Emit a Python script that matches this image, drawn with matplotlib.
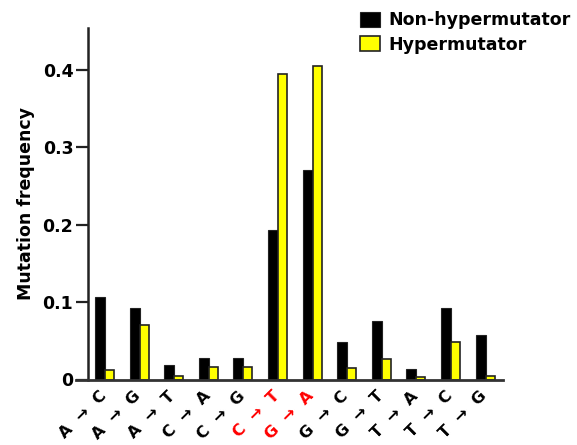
import numpy as np
import matplotlib
matplotlib.use('Agg')
import matplotlib.pyplot as plt
import matplotlib.transforms as mtransforms

plt.rcParams['font.family'] = ['DejaVu Sans']
plt.rcParams['font.weight'] = 'bold'

src = ['A', 'A', 'A', 'C', 'C', 'C', 'G', 'G', 'G', 'T', 'T', 'T']
dst = ['C', 'G', 'T', 'A', 'G', 'T', 'A', 'C', 'T', 'A', 'C', 'G']
non_hyper = [0.107, 0.093, 0.019, 0.028, 0.028, 0.193, 0.271, 0.049, 0.075, 0.014, 0.093, 0.057]
hyper = [0.012, 0.070, 0.004, 0.016, 0.016, 0.395, 0.406, 0.015, 0.027, 0.003, 0.049, 0.004]
red_idx = [5, 6]

fig = plt.figure(figsize=(5.77, 4.45), dpi=100)
ax = fig.add_axes([88/577, 1-379.5/445, 415/577, 351.5/445])

x = np.arange(len(src))
ax.bar(x-0.29, non_hyper, width=0.29, align='edge', color='black', edgecolor='#222222', linewidth=0.8, label='Non-hypermutator')
ax.bar(x, hyper, width=0.26, align='edge', color='#ffff00', edgecolor='#222222', linewidth=1.2, label='Hypermutator')

ax.set_xlim(-0.49, 11.5)
ax.set_ylim(0, 0.4545)
ax.set_yticks([0, 0.1, 0.2, 0.3, 0.4])
ax.set_yticklabels(['0', '0.1', '0.2', '0.3', '0.4'])
ax.tick_params(axis='y', length=8.6, width=1.6, pad=2, labelsize=12.5, color='#222222')
ax.set_xticks([])
for s in ['top', 'right', 'bottom']:
    ax.spines[s].set_visible(False)
ax.spines['left'].set_linewidth(1.8)
ax.spines['left'].set_color('#222222')
ax.axhline(0, xmin=-12/415, xmax=1, color='#333333', lw=2.0, clip_on=False, zorder=5)

ax.set_ylabel('Mutation frequency', fontsize=12.5, fontweight='bold')
ax.yaxis.set_label_coords(-0.128, 0.5)

for i in range(len(src)):
    c = 'red' if i in red_idx else 'black'
    tr = mtransforms.offset_copy(ax.transData, fig=fig, x=-1, y=-14, units='dots')
    ax.text(i, 0, src[i] + '  \u2192  ' + dst[i], transform=tr, rotation=45,
            rotation_mode='anchor', ha='right', va='center', fontsize=11.5,
            fontweight='bold', color=c, clip_on=False)

ax.legend(loc='upper left', bbox_to_anchor=(360/577, 1-11/445), bbox_transform=fig.transFigure,
          frameon=False, borderpad=0, borderaxespad=0, handlelength=1.15,
          handleheight=0.95, handletextpad=0.5, labelspacing=0.4, prop={'weight': 'bold', 'size': 12.5})

fig.savefig('out.png', dpi=100)
